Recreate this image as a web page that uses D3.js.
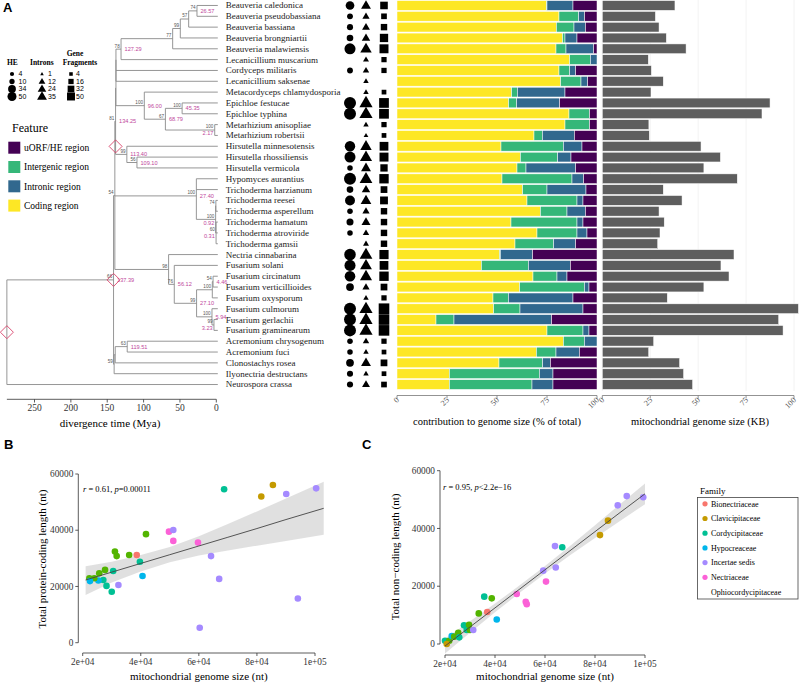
<!DOCTYPE html>
<html><head><meta charset="utf-8">
<script src="https://cdn.jsdelivr.net/npm/d3@7"></script>
<style>
body{margin:0;background:#fff}
svg{display:block}
text{font-family:"Liberation Serif","Times New Roman",serif}
</style>
</head><body>
<svg id="c" width="800" height="683"></svg>
<script>
// ---------------- DATA ----------------
const species=["Beauveria caledonica","Beauveria pseudobassiana","Beauveria bassiana","Beauveria brongniartii","Beauveria malawiensis","Lecanicillium muscarium","Cordyceps militaris","Lecanicillium saksenae","Metacordyceps chlamydosporia","Epichloe festucae","Epichloe typhina","Metarhizium anisopliae","Metarhizium robertsii","Hirsutella minnesotensis","Hirsutella rhossiliensis","Hirsutella vermicola","Hypomyces aurantius","Trichoderma harzianum","Trichoderma reesei","Trichoderma asperellum","Trichoderma hamatum","Trichoderma atroviride","Trichoderma gamsii","Nectria cinnabarina","Fusarium solani","Fusarium circinatum","Fusarium verticillioides","Fusarium oxysporum","Fusarium culmorum","Fusarium gerlachii","Fusarium graminearum","Acremonium chrysogenum","Acremonium fuci","Clonostachys rosea","Ilyonectria destructans","Neurospora crassa"];

// % contribution to genome size
const coding    =[74.7,81.0,79.7,82.8,79.5,86.3,81.0,81.8,57.3,55.8,86.0,84.0,68.5,52.0,61.7,60.0,52.5,62.8,65.0,71.7,57.0,70.0,59.0,51.3,42.2,68.0,61.3,48.0,48.3,19.5,75.0,83.2,69.7,51.0,26.2,26.2];
const intergenic=[0.3,9.8,8.8,1.2,5.0,10.4,5.3,10.2,2.9,4.0,10.3,12.3,4.2,31.2,18.6,4.5,35.0,12.2,25.0,13.3,33.0,20.0,19.3,0.4,23.5,12.0,32.4,7.7,13.2,9.0,18.0,10.5,9.8,21.8,45.0,41.3];
const intronic  =[13.0,3.0,5.7,6.0,13.8,3.3,3.0,3.3,23.8,21.5,0.0,0.0,16.0,9.3,6.7,24.8,5.8,19.5,3.0,9.2,3.0,5.0,11.0,16.1,21.0,5.0,2.3,32.3,31.5,48.8,3.0,6.3,11.7,3.9,6.8,10.5];
const uorfHE    =[12.0,6.2,5.8,10.0,1.7,0.0,10.7,4.7,16.0,18.7,3.7,3.7,11.3,7.5,13.0,10.7,6.7,5.5,7.0,5.8,7.0,5.0,10.7,32.2,13.3,15.0,4.0,12.0,7.0,22.7,4.0,0.0,8.8,23.3,22.0,22.0];
const featureNames=["uORF/HE region","Intergenic region","Intronic region","Coding region"];
const featureColors=["#440154","#35b779","#31688e","#fde725"];

// mitochondrial genome size (KB)
const mitoKB=[37.9,27.7,29.6,33.4,43.7,24.0,25.6,31.8,25.4,87.5,83.3,24.3,24.5,51.5,61.6,53.0,70.4,31.8,41.6,29.6,32.3,30.1,28.9,68.7,61.9,66.1,53.0,33.9,102.3,92.0,94.3,26.8,24.2,40.3,42.4,47.1];

// HE / introns / gene fragments (symbol sizes)
const heCount   =[20,5,6,8,40,0,5,0,0,50,50,0,0,34,40,4,50,8,30,4,10,4,0,45,40,36,14,0,50,50,50,4,4,14,6,6];
const intronCount=[16,6,8,10,24,3,4,2,2,35,35,2,1,24,28,16,32,10,20,6,12,4,3,32,26,28,6,2,35,35,35,4,2,16,2,8];
const fragCount =[20,8,12,26,32,6,6,0,4,40,40,6,4,30,32,18,36,14,22,12,12,12,12,34,30,36,14,6,50,50,50,6,4,14,4,8];
const heLegend=[4,10,34,50], intronLegend=[1,12,24,35], fragLegend=[4,16,32,50];

// divergence-time tree (node ages in Mya, bootstrap, age label)
const L=s=>({leaf:s,age:0});
function N(age,boot,lab,ch,dia){return {age,boot,lab,ch,dia};}
const sp=species;
const tree=N(288,"","",[
  N(141.3,"66","137.39",[
    N(139.5,"54","",[
      N(138.5,"81","134.25",[
        N(138,"","",[
          N(138,"","",[
            N(138,"","",[
              N(131,"78","127.29",[
                N(60,"77","",[
                  N(49.5,"99","",[
                    N(38,"57","",[
                      N(26.57,"74","26.57",[L(sp[0]),L(sp[1])]),
                      L(sp[2])]),
                    L(sp[3])]),
                  L(sp[4])]),
                L(sp[5])]),
              L(sp[6])]),
            L(sp[7])]),
          N(99,"100","96.00",[
            L(sp[8]),
            N(70,"67","68.79",[
              N(47,"100","45.35",[L(sp[9]),L(sp[10])]),
              N(2.17,"100","2.17",[L(sp[11]),L(sp[12])])])])]),
        N(123,"99","113.40",[
          L(sp[13]),
          N(109.1,"56","109.10",[L(sp[14]),L(sp[15])])],"stem")]),
      N(27.4,"100","27.40",[
        L(sp[16]),L(sp[17]),
        N(0.92,"100","0.92",[
          N(0.6,"74","",[L(sp[18]),L(sp[19])]),
          N(0.31,"60","0.31",[L(sp[20]),L(sp[21]),L(sp[22])])])]),
      N(65.6,"98","",[
        L(sp[23]),
        N(57.8,"76","56.12",[
          L(sp[24]),
          N(27.1,"99","27.10",[
            N(5.5,"100","",[
              N(4.46,"54","4.46",[L(sp[25]),L(sp[26])]),
              L(sp[27])]),
            N(5.94,"100","5.94",[
              L(sp[28]),
              N(3.23,"99","3.23",[L(sp[29]),L(sp[30])])])])])])]),
    N(140.5,"59","",[
      N(139,"","",[
        N(122.5,"63","119.51",[L(sp[31]),L(sp[32])]),
        L(sp[33])]),
      L(sp[34])])],"node"),
  L(sp[35])],"node");
const timeTicks=[250,200,150,100,50,0];
const pctTicks=[0,25,50,75,100];
const kbTicks=[0,25,50,75,100];

// Panel B / C data
const famKeys=["Bio","Cla","Cor","Hyp","Inc","Nec","Oph"];
const famColors=["#F8766D","#C49A00","#53B400","#00C094","#00B6EB","#A58AFF","#FB61D7"];
const bGenome=[81500,85500,90100,100400,94100,68700,64200,67000,60300,59700,49700,51200,51200,41800,40600,39700,38600,36000,31700,31100,30500,32300,30000,28200,27100,27700,25700,25400,24000,22300,22500];
const bCoding=[52000,56100,52900,54900,15700,54600,30800,22700,5300,35600,39500,40100,36200,38600,23700,28800,31200,31200,30800,32400,25500,20500,18100,20200,22300,25900,24700,22100,22900,22900,21900];
const bFam=["Cla","Cla","Nec","Nec","Nec","Hyp","Nec","Nec","Nec","Oph","Oph","Nec","Oph","Cor","Inc","Hyp","Bio","Cor","Cor","Cor","Hyp","Nec","Hyp","Hyp","Hyp","Cor","Cor","Inc","Cor","Cor","Inc"];
const bBandX=[21000,30000,40000,50000,60000,70000,80000,90000,103000];
const bFit  =[22300,25100,28200,31300,34400,37500,40600,43800,47800];
const bLo   =[17000,21400,25300,28600,31000,32800,34500,36200,38400];
const bHi   =[27200,28800,31200,34000,37900,42200,46700,51300,57200];

const cGenome=[20000,21700,22700,23700,25300,25700,27600,28700,29600,30000,31300,20700,33500,35700,36900,38700,40700,48700,52300,52700,59300,60400,64000,64300,66900,82000,85200,89100,92700,99300];
const cNonCoding=[1150,1150,2770,2540,3920,2310,6460,4840,6690,4840,4840,0,10600,16400,11100,15800,8500,17300,14600,13800,25400,21600,33900,26500,33500,37700,42700,48000,51200,50800];
const cFam=["Hyp","Cor","Inc","Cor","Cor","Hyp","Hyp","Hyp","Cor","Cor","Nec","Cla","Cor","Hyp","Bio","Cor","Inc","Oph","Oph","Oph","Nec","Oph","Nec","Nec","Hyp","Cla","Cla","Nec","Nec","Nec"];
const cBandX=[20000,30000,40000,50000,60000,70000,80000,90000,100000];
const cFit  =[-700,5900,12500,19100,25700,32300,38900,45500,52000];
const cLo   =[-3300,3900,11000,17800,24400,30700,36700,42600,48400];
const cHi   =[1900,7900,14000,20400,27000,33900,41100,48400,55600];

const legendFamilies=["Bionectriaceae","Clavicipitaceae","Cordycipitaceae","Hypocreaceae","Incertae sedis","Nectriaceae","Ophiocordycipitaceae"];
const legendDots=["#F8766D","#C49A00","#00C094","#00B6EB","#A58AFF","#FB61D7",null];
const sciTicks=[20000,40000,60000,80000,100000];
const sciLabels=["2e+04","4e+04","6e+04","8e+04","1e+05"];
const yTicks=[0,20000,40000,60000];

// ---------------- DRAW ----------------
const svg=d3.select("#c");
const sans='"Liberation Sans",Arial,sans-serif';
const famColor=d3.scaleOrdinal().domain(famKeys).range(famColors);

// panel letters
[["A",3,12],["B",4,449],["C",362,449]].forEach(([t,x,y])=>svg.append("text").attr("x",x).attr("y",y).text(t)
  .style("font-family",sans).style("font-weight","bold").style("font-size","13px"));

// rows
const yb=d3.scaleBand().domain(species).range([0.6,389.4]).paddingInner(0.1);
const yc=s=>yb(s)+yb.bandwidth()/2;

// ---- tree ----
const tx=d3.scaleLinear().domain([0,250]).range([216.3,34.5]);
const gT=svg.append("g");
function setY(n){ if(n.leaf){n.y=yc(n.leaf);return n.y;} n.ch.forEach(setY); n.y=d3.mean(n.ch,c=>c.y); return n.y;}
setY(tree);
const lineCol="#8a8a8a";
function seg(x1,y1,x2,y2){gT.append("line").attr("x1",x1).attr("y1",y1).attr("x2",x2).attr("y2",y2).attr("stroke",lineCol).attr("stroke-width",0.9);}
const diamonds=[];
function drawNode(n,px){
  const x=tx(n.age);
  if(px!=null) seg(px,n.y,n.leaf?x+1.5:x,n.y);
  if(n.ch){
    seg(x,d3.min(n.ch,c=>c.y),x,d3.max(n.ch,c=>c.y));
    n.ch.forEach(c=>drawNode(c,x));
    if(n.boot) gT.append("text").attr("x",x-1.3).attr("y",n.y-1.6).attr("text-anchor","end")
      .style("font-size","4.6px").style("font-family",sans).attr("fill","#555").text(n.boot);
    if(n.lab){
      const near=n.age<3.5;
      gT.append("text").attr("x",near?x-1.3:x+3.5).attr("y",near?n.y+5.2:n.y+2).attr("text-anchor",near?"end":"start")
        .style("font-size","5.6px").style("font-family",sans).attr("fill","#c0479c").text(n.lab);
    }
    if(n.dia==="node") diamonds.push([x,n.y]);
    if(n.dia==="stem") diamonds.push([px,n.y-8]);
  }
}
drawNode(tree,null);
diamonds.forEach(([x,y])=>gT.append("path").attr("d",`M${x-6.5},${y}L${x},${y-6.5}L${x+6.5},${y}L${x},${y+6.5}Z`)
  .attr("fill","none").attr("stroke","#d9436b").attr("stroke-width",0.9));
// tree axis
const ta=svg.append("g");
ta.append("line").attr("x1",tx(288)).attr("x2",tx(0)).attr("y1",399.3).attr("y2",399.3).attr("stroke","#333").attr("stroke-width",0.8);
timeTicks.forEach(v=>{
  ta.append("line").attr("x1",tx(v)).attr("x2",tx(v)).attr("y1",399.3).attr("y2",402.5).attr("stroke","#333").attr("stroke-width",0.8);
  ta.append("text").attr("x",tx(v)).attr("y",411).attr("text-anchor","middle").style("font-size","9.5px").attr("fill","#333").text(v);
});
ta.append("text").attr("x",110).attr("y",427).attr("text-anchor","middle").style("font-size","11px").text("divergence time (Mya)");

// species labels
svg.append("g").selectAll("text").data(species).join("text")
  .attr("x",225.7).attr("y",d=>yc(d)).attr("dy","0.33em").style("font-size","9px").attr("fill","#222").text(d=>d);

// symbols
const rC=d3.scaleSqrt().domain([0,50]).range([1.5,6]);
const rT=d3.scaleSqrt().domain([0,35]).range([1.5,6.6]);
const rS=d3.scaleSqrt().domain([0,50]).range([1.2,5.3]);
const triPath=(cx,cy,r)=>{const h=r*1.732;return `M${cx},${cy-h*0.62}L${cx+r},${cy+h*0.38}L${cx-r},${cy+h*0.38}Z`;};
const gS=svg.append("g");
species.forEach((s,i)=>{
  const cy=yc(s);
  if(heCount[i]>0) gS.append("circle").attr("cx",350).attr("cy",cy).attr("r",rC(heCount[i])).attr("fill","#000");
  if(intronCount[i]>0) gS.append("path").attr("d",triPath(366,cy,rT(intronCount[i]))).attr("fill","#000");
  if(fragCount[i]>0){const h=rS(fragCount[i]); gS.append("rect").attr("x",384-h).attr("y",cy-h).attr("width",2*h).attr("height",2*h).attr("fill","#000");}
});

// size legend
const gL=svg.append("g");
gL.append("text").attr("x",7).attr("y",65).style("font-size","7.5px").style("font-weight","bold").text("HE");
gL.append("text").attr("x",30).attr("y",65).style("font-size","7.5px").style("font-weight","bold").text("Introns");
gL.append("text").attr("x",75).attr("y",56).attr("text-anchor","middle").style("font-size","7.5px").style("font-weight","bold").text("Gene");
gL.append("text").attr("x",80).attr("y",65).attr("text-anchor","middle").style("font-size","7.5px").style("font-weight","bold").text("Fragments");
const legY=[74,81.5,89,96.5];
heLegend.forEach((v,i)=>{gL.append("circle").attr("cx",12).attr("cy",legY[i]).attr("r",rC(v)*0.75);
  gL.append("text").attr("x",18.5).attr("y",legY[i]).attr("dy","0.35em").style("font-size","7px").style("font-family",sans).text(v);});
intronLegend.forEach((v,i)=>{gL.append("path").attr("d",triPath(42,legY[i],rT(v)*0.75));
  gL.append("text").attr("x",48).attr("y",legY[i]).attr("dy","0.35em").style("font-size","7px").style("font-family",sans).text(v);});
fragLegend.forEach((v,i)=>{const h=rS(v)*0.75; gL.append("rect").attr("x",71-h).attr("y",legY[i]-h).attr("width",2*h).attr("height",2*h);
  gL.append("text").attr("x",76).attr("y",legY[i]).attr("dy","0.35em").style("font-size","7px").style("font-family",sans).text(v);});
// feature legend
gL.append("text").attr("x",12).attr("y",132).style("font-size","12px").text("Feature");
featureNames.forEach((f,i)=>{
  const y0=141.7+i*19.3;
  gL.append("rect").attr("x",8.3).attr("y",y0).attr("width",12).attr("height",12).attr("fill",featureColors[i]);
  gL.append("text").attr("x",24).attr("y",y0+6).attr("dy","0.35em").style("font-size","9.5px").text(f);
});

// ---- stacked bars ----
const xs=d3.scaleLinear().domain([0,100]).range([397,597]);
const gB=svg.append("g");
const layers=[coding,intergenic,intronic,uorfHE];
const layerCols=[featureColors[3],featureColors[1],featureColors[2],featureColors[0]];
species.forEach((s,i)=>{
  let acc=0;
  layers.forEach((arr,k)=>{
    const v=arr[i];
    if(v>0) gB.append("rect").attr("x",xs(acc)).attr("y",yb(s)).attr("width",xs(acc+v)-xs(acc)).attr("height",yb.bandwidth())
      .attr("fill",layerCols[k]).attr("stroke","#fff").attr("stroke-width",0.5);
    acc+=v;
  });
});
function rotAxis(scale,ticks,x1,x2){
  const g=svg.append("g");
  g.append("line").attr("x1",x1).attr("x2",x2).attr("y1",395.5).attr("y2",395.5).attr("stroke","#777").attr("stroke-width",0.8);
  ticks.forEach(v=>{
    g.append("line").attr("x1",scale(v)).attr("x2",scale(v)).attr("y1",395.5).attr("y2",398.5).attr("stroke","#777").attr("stroke-width",0.8);
    g.append("text").attr("transform",`translate(${scale(v)+2.5},${400.5}) rotate(-45)`).attr("text-anchor","end")
      .style("font-size","8px").attr("fill","#555").text(v);
  });
}
rotAxis(xs,pctTicks,xs(0),xs(100));
svg.append("text").attr("x",497).attr("y",425).attr("text-anchor","middle").style("font-size","10.5px").text("contribution to genome size (% of total)");

// ---- genome size bars ----
const xg=d3.scaleLinear().domain([0,100]).range([602.3,794]);
const gG=svg.append("g");
kbTicks.forEach(v=>gG.append("line").attr("x1",xg(v)).attr("x2",xg(v)).attr("y1",0).attr("y2",391).attr("stroke","#efefef").attr("stroke-width",0.8));
species.forEach((s,i)=>gG.append("rect").attr("x",xg(0)).attr("y",yb(s)).attr("width",xg(mitoKB[i])-xg(0)).attr("height",yb.bandwidth())
  .attr("fill","#5e5e5e").attr("stroke","#fff").attr("stroke-width",0.5));
rotAxis(xg,kbTicks,xg(0),xg(100));
svg.append("text").attr("x",700).attr("y",425).attr("text-anchor","middle").style("font-size","10.5px").text("mitochondrial genome size (KB)");

// ---- scatter panels ----
function scatter(cfg){
  const g=svg.append("g");
  const X=d3.scaleLinear().domain([20000,100000]).range(cfg.xr);
  const Y=d3.scaleLinear().domain([0,60000]).range(cfg.yr);
  const band=cfg.bx.map((x,i)=>({x,lo:cfg.lo[i],hi:cfg.hi[i],f:cfg.fit[i]}));
  g.append("path").attr("d",d3.area().x(d=>X(d.x)).y0(d=>Y(d.lo)).y1(d=>Y(d.hi))(band)).attr("fill","#d6d6d6").attr("opacity",0.75);
  cfg.px.forEach((x,i)=>g.append("circle").attr("cx",X(x)).attr("cy",Y(cfg.py[i])).attr("r",3.3).attr("fill",famColor(cfg.fam[i])));
  g.append("path").attr("d",d3.line().x(d=>X(d.x)).y(d=>Y(d.f))(band)).attr("fill","none").attr("stroke","#444").attr("stroke-width",0.9);
  g.append("line").attr("x1",cfg.yAxisX).attr("x2",cfg.yAxisX).attr("y1",Y(0)).attr("y2",Y(60000)).attr("stroke","#333").attr("stroke-width",0.8);
  yTicks.forEach(v=>{
    g.append("line").attr("x1",cfg.yAxisX).attr("x2",cfg.yAxisX-3).attr("y1",Y(v)).attr("y2",Y(v)).attr("stroke","#333").attr("stroke-width",0.8);
    g.append("text").attr("x",cfg.yAxisX-5).attr("y",Y(v)).attr("dy","0.35em").attr("text-anchor","end").style("font-size","9.3px").attr("fill","#333").text(v);
  });
  g.append("line").attr("x1",X(20000)).attr("x2",X(100000)).attr("y1",cfg.xAxisY).attr("y2",cfg.xAxisY).attr("stroke","#333").attr("stroke-width",0.8);
  sciTicks.forEach((v,i)=>{
    g.append("line").attr("x1",X(v)).attr("x2",X(v)).attr("y1",cfg.xAxisY).attr("y2",cfg.xAxisY+3).attr("stroke","#333").attr("stroke-width",0.8);
    g.append("text").attr("x",X(v)).attr("y",cfg.xAxisY+11.5).attr("text-anchor","middle").style("font-size","9.3px").attr("fill","#333").text(sciLabels[i]);
  });
  g.append("text").attr("x",(cfg.xr[0]+cfg.xr[1])/2).attr("y",680).attr("text-anchor","middle").style("font-size","11px").text("mitochondrial genome size (nt)");
  g.append("text").attr("transform",`translate(${cfg.ytX},${cfg.ytY}) rotate(-90)`).attr("text-anchor","middle").style("font-size","11px").text(cfg.ytitle);
  const t=g.append("text").attr("x",cfg.annX).attr("y",cfg.annY).style("font-size","8.5px");
  t.append("tspan").style("font-style","italic").text("r");
  t.append("tspan").text(" =  "+cfg.r+", ");
  t.append("tspan").style("font-style","italic").text("p");
  t.append("tspan").text(cfg.p);
}
scatter({xr:[82.7,315],yr:[642.7,474],yAxisX:78.3,xAxisY:653,px:bGenome,py:bCoding,fam:bFam,bx:bBandX,fit:bFit,lo:bLo,hi:bHi,
  ytitle:"Total protein-coding length (nt)",ytX:46,ytY:559,annX:83,annY:492,r:"0.61",p:"=0.00011"});
scatter({xr:[445,645],yr:[644,470.7],yAxisX:440,xAxisY:655,px:cGenome,py:cNonCoding,fam:cFam,bx:cBandX,fit:cFit,lo:cLo,hi:cHi,
  ytitle:"Total non\u2212coding length (nt)",ytX:399,ytY:557,annX:443,annY:490,r:"0.95",p:"<2.2e\u221216"});

// family legend
const gF=svg.append("g");
gF.append("text").attr("x",700).attr("y",494).style("font-size","9px").text("Family");
gF.append("rect").attr("x",697.5).attr("y",497.5).attr("width",100.5).attr("height",101.5).attr("fill","none").attr("stroke","#444").attr("stroke-width",0.8);
legendFamilies.forEach((f,i)=>{
  const y=503.8+i*14.7;
  if(legendDots[i]) gF.append("circle").attr("cx",705).attr("cy",y).attr("r",2.6).attr("fill",legendDots[i]);
  gF.append("text").attr("x",711).attr("y",y).attr("dy","0.35em").style("font-size","8px").text(f);
});
</script>
</body></html>
